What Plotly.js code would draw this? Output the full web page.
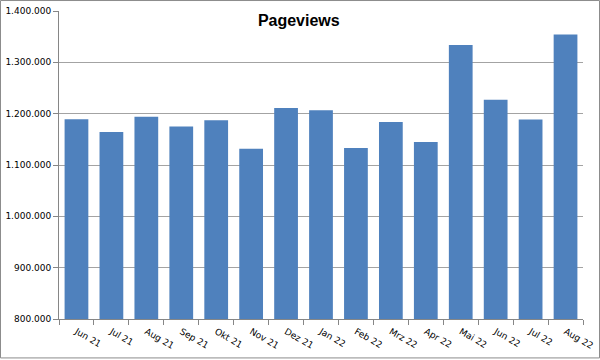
<!DOCTYPE html>
<html>
<head>
<meta charset="utf-8">
<script src="https://cdn.plot.ly/plotly-3.0.1.min.js"></script>
<style>html,body{margin:0;padding:0;background:#fff;} #chart{width:600px;height:360px;}</style>
</head>
<body>
<div id="chart"></div>
<script>
var months = ["Jun 21","Jul 21","Aug 21","Sep 21","Okt 21","Nov 21","Dez 21","Jan 22","Feb 22","Mrz 22","Apr 22","Mai 22","Jun 22","Jul 22","Aug 22"];
var pageviews = [1189000,1164500,1194000,1175000,1187000,1131500,1211000,1206500,1133000,1184000,1145000,1334000,1227000,1188500,1354000];
var yTicks = [800000,900000,1000000,1100000,1200000,1300000,1400000];
var yTickLabels = ["800.000","900.000","1.000.000","1.100.000","1.200.000","1.300.000","1.400.000"];

var W = 600, H = 360, L = 59, R = 17, T = 11, B = 40.5;
var pw = W - L - R, ph = H - T - B;
function px(x){ return (x - L) / pw; }
function py(y){ return 1 - (y - T) / ph; }

Plotly.newPlot('chart', [{
  type: 'bar',
  x: months,
  y: pageviews,
  marker: {color: '#4F81BD'},
  hoverinfo: 'x+y'
}], {
  width: W, height: H,
  margin: {l: L, r: R, t: T, b: B, pad: 0},
  paper_bgcolor: '#fff', plot_bgcolor: '#fff',
  bargap: 0.32,
  showlegend: false,
  title: {text: '<b>Pageviews</b>', font: {family: 'Liberation Sans, Arial', size: 16, color: '#000'},
          x: 0.498, xanchor: 'center', y: 1 - 20/360, yanchor: 'middle', yref: 'container'},
  xaxis: {
    type: 'category',
    tickangle: 30,
    ticks: 'outside', ticklen: 5, tickcolor: '#868686',
    tickson: 'boundaries',
    ticklabelstandoff: 3,
    showline: true, linecolor: '#868686', linewidth: 1,
    showgrid: false,
    tickfont: {family: 'DejaVu Sans', size: 9, color: '#000'},
    fixedrange: true
  },
  yaxis: {
    range: [800000, 1400000],
    tickvals: yTicks, ticktext: yTickLabels,
    ticks: 'outside', ticklen: 5, tickcolor: '#868686',
    showline: true, linecolor: '#868686', linewidth: 1,
    showgrid: true, gridcolor: '#a3a3a3', gridwidth: 1,
    zeroline: false,
    tickfont: {family: 'DejaVu Sans', size: 9, color: '#000'},
    fixedrange: true
  },
  shapes: [{
    type: 'rect', xref: 'paper', yref: 'paper',
    x0: px(0.5), x1: px(599.5), y0: py(358.5), y1: py(0.5),
    line: {color: '#8c8c8c', width: 1}, fillcolor: 'rgba(0,0,0,0)', layer: 'above'
  }]
}, {displayModeBar: false, staticPlot: true});
</script>
</body>
</html>
